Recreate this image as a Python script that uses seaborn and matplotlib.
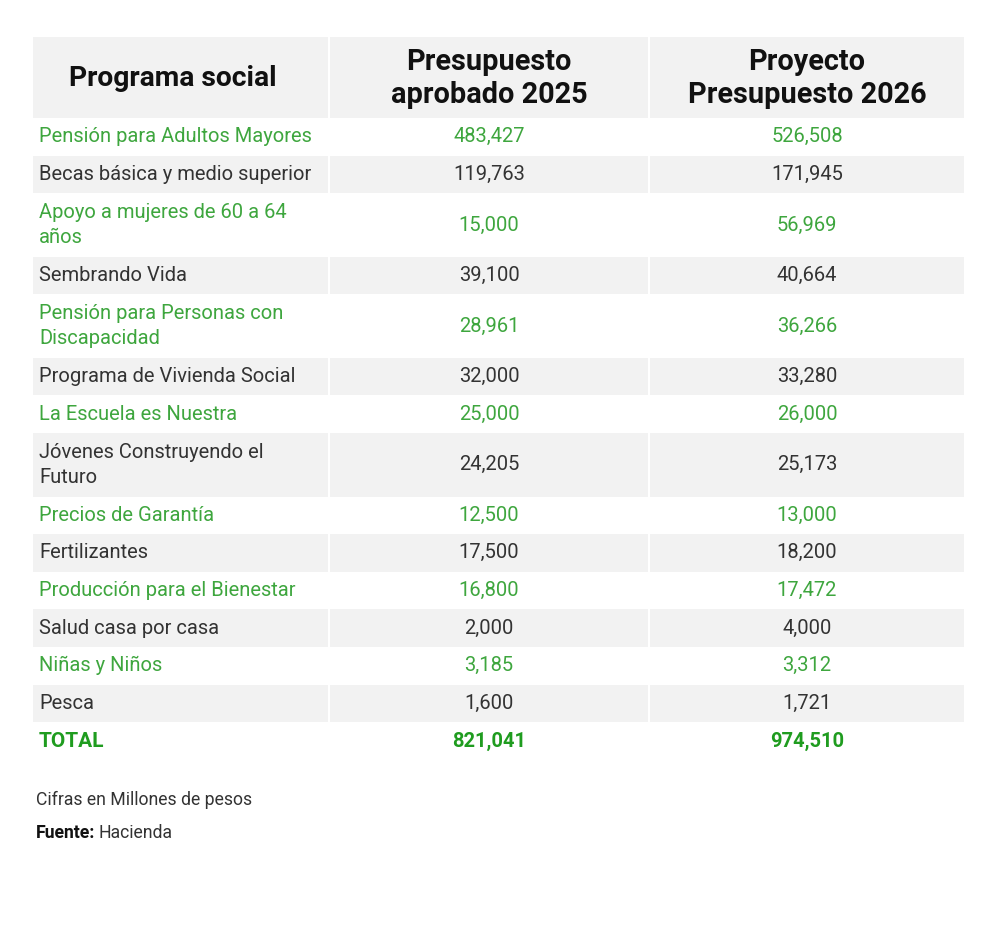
import matplotlib
matplotlib.use("Agg")
import matplotlib.pyplot as plt
from matplotlib.patches import Rectangle
import seaborn as sns

programas = [
    "Pensión para Adultos Mayores",
    "Becas básica y medio superior",
    "Apoyo a mujeres de 60 a 64\naños",
    "Sembrando Vida",
    "Pensión para Personas con\nDiscapacidad",
    "Programa de Vivienda Social",
    "La Escuela es Nuestra",
    "Jóvenes Construyendo el\nFuturo",
    "Precios de Garantía",
    "Fertilizantes",
    "Producción para el Bienestar",
    "Salud casa por casa",
    "Niñas y Niños",
    "Pesca",
]
presupuesto_2025 = [483427, 119763, 15000, 39100, 28961, 32000, 25000,
                    24205, 12500, 17500, 16800, 2000, 3185, 1600]
proyecto_2026 = [526508, 171945, 56969, 40664, 36266, 33280, 26000,
                 25173, 13000, 18200, 17472, 4000, 3312, 1721]
total_2025 = 821041
total_2026 = 974510
encabezados = ["Programa social", "Presupuesto\naprobado 2025", "Proyecto\nPresupuesto 2026"]

sns.set_theme(style="white")
plt.rcParams['font.family'] = ['Roboto', 'DejaVu Sans']

VERDE = "#3ea63e"
VERDE_TOTAL = "#1f9c1f"
GRIS = "#f2f2f2"
TEXTO = "#333333"
FS = 14.5

fig = plt.figure(figsize=(10, 9.26), dpi=100)
ax = fig.add_axes([0, 0, 1, 1])
ax.set_xlim(0, 1000)
ax.set_ylim(926, 0)
ax.axis("off")

# columnas (bordes izq/der) y centros
cols = [(33, 328), (330, 648), (650, 964)]
centros = [173, 489, 807]

# encabezado
y0, y1 = 37, 118
for x0, x1 in cols:
    ax.add_patch(Rectangle((x0, y0), x1 - x0, y1 - y0, color=GRIS, lw=0))
ax.text(centros[0], (y0 + y1) / 2 + 1, encabezados[0], ha="center", va="center",
        fontsize=20.3, fontweight="bold", color="#111111")
for i in (1, 2):
    ax.text(centros[i], (y0 + y1) / 2 + 1, encabezados[i], ha="center", va="center",
            fontsize=20.8, fontweight="bold", color="#111111", linespacing=1.25)

# filas
y = y1
for i, prog in enumerate(programas):
    h = 63.5 if "\n" in prog else 37.6
    verde = i % 2 == 0
    if not verde:
        for x0, x1 in cols:
            ax.add_patch(Rectangle((x0, y), x1 - x0, h, color=GRIS, lw=0))
    color = VERDE if verde else TEXTO
    yc = y + h / 2
    ax.text(39, yc, prog, ha="left", va="center", fontsize=FS, color=color,
            linespacing=1.38)
    ax.text(centros[1], yc, f"{presupuesto_2025[i]:,}", ha="center", va="center",
            fontsize=FS, color=color)
    ax.text(centros[2], yc, f"{proyecto_2026[i]:,}", ha="center", va="center",
            fontsize=FS, color=color)
    y += h

# total
yc = y + 19
ax.text(39, yc, "TOTAL", ha="left", va="center", fontsize=15,
        fontweight="bold", color=VERDE_TOTAL)
ax.text(centros[1], yc, f"{total_2025:,}", ha="center", va="center",
        fontsize=FS, fontweight="bold", color=VERDE_TOTAL)
ax.text(centros[2], yc, f"{total_2026:,}", ha="center", va="center",
        fontsize=FS, fontweight="bold", color=VERDE_TOTAL)

# notas
ax.text(36, 800, "Cifras en Millones de pesos", ha="left", va="center",
        fontsize=12.7, color=TEXTO)
t = ax.text(36, 833, "Fuente:", ha="left", va="center", fontsize=12.7,
            fontweight="bold", color="#111111")
fig.canvas.draw()
bb = t.get_window_extent()
x_fin = ax.transData.inverted().transform((bb.x1, bb.y0))[0]
ax.text(x_fin + 3, 833, "Hacienda", ha="left", va="center", fontsize=12.7,
        color=TEXTO)

fig.savefig("out.png", dpi=100, facecolor="white")
